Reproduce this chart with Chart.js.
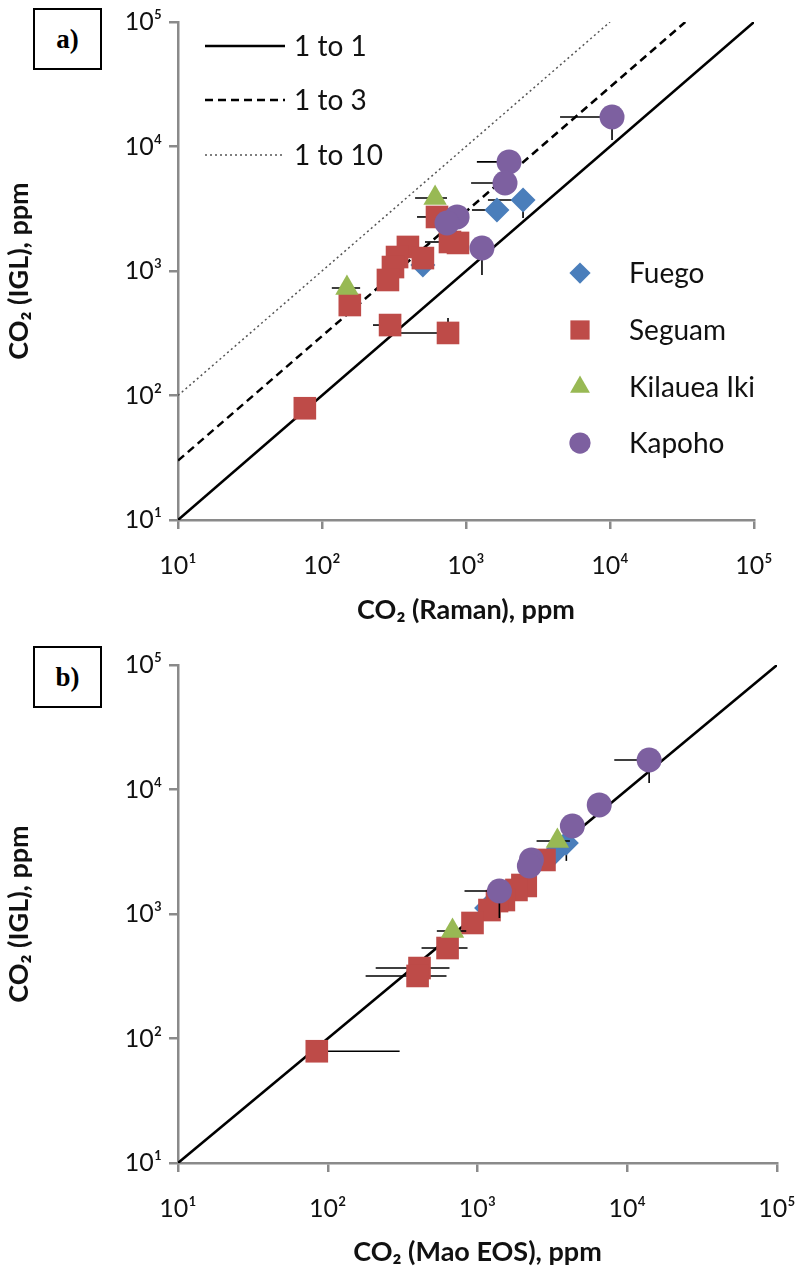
<!DOCTYPE html>
<html>
<head>
<meta charset="utf-8">
<script src="https://cdn.jsdelivr.net/npm/chart.js@4.4.0/dist/chart.umd.min.js"></script>
<style>
  body { margin: 0; background: #fff; width: 799px; height: 1277px; position: relative; overflow: hidden; }
  canvas { position: absolute; left: 0; }
  #chartA { top: 0; }
  #chartB { top: 640px; }
  .tag { position: absolute; left: 33px; width: 69px; height: 62px; box-sizing: border-box; border: 2px solid #000;
         font: bold 27px "Liberation Serif", serif; display: flex; align-items: center; justify-content: center; background: #fff; z-index: 2; }
</style>
</head>
<body>
<canvas id="chartA" width="799" height="640"></canvas>
<canvas id="chartB" width="799" height="637"></canvas>
<div class="tag" style="top:8px">a)</div>
<div class="tag" style="top:646px">b)</div>
<script>
// ===== DATA (ppm) =====
const axisTicks = [10, 100, 1000, 10000, 100000];
const axisTickLabels = ['10\u00B9', '10\u00B2', '10\u00B3', '10\u2074', '10\u2075'];
const ratioLabels = ['1 to 1', '1 to 3', '1 to 10'];
const ratios = [1, 3, 10];
const seriesNames = ['Fuego', 'Seguam', 'Kilauea Iki', 'Kapoho'];

const fuegoIGL       = [3715, 3090, 1117];
const fuegoRaman     = [2490, 1640, 502];
const fuegoMao       = [3920, 3260, 1150];
const fuegoRamanLo   = [1420, 1100, null];
const fuegoMaoLo     = [null, 2500, null];
const fuegoIGLLo     = [2670, null, null];

const seguamIGL      = [2717, 1710, 1680, 1560, 1295, 1270, 1076, 847, 533, 368, 318, 79];
const seguamRaman    = [629, 774, 880, 395, 332, 502, 311, 287, 156, 297, 750, 76];
const seguamMao      = [2800, 1995, 2100, 1820, 1500, 1350, 1202, 926, 631, 410, 398, 84.5];
const seguamRamanLo  = [457, 519, null, null, null, null, null, null, null, 226, 250, null];
const seguamMaoLo    = [null, null, null, null, null, null, null, null, 423, 209, 179, null];
const seguamMaoHi    = [null, null, null, null, null, null, null, null, 858, 650, 621, 302];
const seguamIGLHi    = [null, null, null, null, null, null, null, null, null, null, 419, null];

const kilaueaIGL     = [3855, 730];
const kilaueaRaman   = [610, 149];
const kilaueaMao     = [3415, 681];
const kilaueaRamanLo = [443, 117];
const kilaueaRamanHi = [738, 184];
const kilaueaMaoLo   = [2480, 535];
const kilaueaMaoHi   = [4140, 841];

const kapohoIGL      = [17260, 7520, 5090, 2717, 2430, 1530];
const kapohoRaman    = [10330, 1990, 1866, 867, 738, 1291];
const kapohoMao      = [14000, 6500, 4300, 2290, 2220, 1400];
const kapohoRamanLo  = [4500, 1190, 1085, null, null, null];
const kapohoMaoLo    = [8190, null, null, null, null, 819];
const kapohoIGLLo    = [11270, null, null, null, null, 929];

// ===== STYLES =====
const seriesColors = ['#4A7EBB', '#BE4B48', '#98B954', '#7D60A0'];
const seriesShapes = ['rectRot', 'rect', 'triangle', 'circle'];
const seriesRadius = [12.5, 16, 13.5, 12.5];
const lineDashes = [[], [8, 5], [2, 3]];
const lineWidths = [2.5, 2.5, 1.5];
const lineColors = ['#000', '#000', '#555'];
const FONT = 'Lato, "DejaVu Sans", sans-serif';

function points(xs, ys, xLo, xHi, yLo, yHi) {
  return xs.map((x, i) => ({
    x, y: ys[i],
    xLo: xLo ? xLo[i] : null, xHi: xHi ? xHi[i] : null,
    yLo: yLo ? yLo[i] : null, yHi: yHi ? yHi[i] : null,
  }));
}

function scatterSet(idx, data) {
  return {
    type: 'scatter', label: seriesNames[idx], data,
    pointStyle: seriesShapes[idx], pointRadius: seriesRadius[idx], pointHoverRadius: seriesRadius[idx],
    backgroundColor: seriesColors[idx], borderColor: seriesColors[idx], borderWidth: 0,
    order: 4 - idx, errorBars: true,
  };
}

function ratioLine(k) {
  return {
    type: 'line', label: ratioLabels[k], isRatio: true,
    data: [{ x: 10, y: 10 * ratios[k] }, { x: 100000 / ratios[k], y: 100000 }],
    borderColor: lineColors[k], borderWidth: lineWidths[k], borderDash: lineDashes[k],
    pointRadius: 0, fill: false, order: 10 + k,
  };
}

// ===== PLUGINS =====
const errorBarPlugin = {
  id: 'errorBars',
  beforeDatasetDraw(chart, args) {
    const ds = chart.data.datasets[args.index];
    if (!ds.errorBars) return;
    const { ctx, chartArea, scales: { x, y } } = chart;
    ctx.save();
    ctx.beginPath();
    ctx.rect(chartArea.left, chartArea.top, chartArea.right - chartArea.left, chartArea.bottom - chartArea.top);
    ctx.clip();
    ctx.strokeStyle = '#000';
    ctx.lineWidth = 1.6;
    ds.data.forEach(p => {
      const px = x.getPixelForValue(p.x), py = y.getPixelForValue(p.y);
      ctx.beginPath();
      if (p.xLo != null) { ctx.moveTo(x.getPixelForValue(p.xLo), py); ctx.lineTo(px, py); }
      if (p.xHi != null) { ctx.moveTo(px, py); ctx.lineTo(x.getPixelForValue(p.xHi), py); }
      if (p.yLo != null) { ctx.moveTo(px, y.getPixelForValue(p.yLo)); ctx.lineTo(px, py); }
      if (p.yHi != null) { ctx.moveTo(px, py); ctx.lineTo(px, y.getPixelForValue(p.yHi)); }
      ctx.stroke();
    });
    ctx.restore();
  }
};

const panelLegendPlugin = {
  id: 'panelLegend',
  afterDraw(chart, args, opts) {
    if (!opts.show) return;
    const ctx = chart.ctx;
    ctx.save();
    ctx.font = '28px ' + FONT;
    ctx.fillStyle = '#111';
    ctx.textBaseline = 'middle';
    const lineSets = chart.data.datasets.filter(d => d.isRatio);
    lineSets.forEach((d, i) => {
      const yy = [46, 100, 155][i];
      ctx.beginPath();
      ctx.strokeStyle = d.borderColor;
      ctx.lineWidth = d.borderWidth;
      ctx.setLineDash(d.borderDash);
      ctx.moveTo(205, yy); ctx.lineTo(285, yy);
      ctx.stroke();
      ctx.setLineDash([]);
      ctx.fillText(d.label, 294, yy + 1);
    });
    const markSets = chart.data.datasets.filter(d => d.errorBars);
    markSets.forEach((d, i) => {
      const yy = [273, 330, 387, 443][i];
      ctx.fillStyle = d.backgroundColor;
      ctx.strokeStyle = d.backgroundColor;
      Chart.helpers.drawPoint(ctx, { pointStyle: d.pointStyle, radius: d.pointRadius * 0.85, rotation: 0, borderWidth: 0 }, 580, yy);
      ctx.fillStyle = '#111';
      ctx.fillText(d.label, 629, yy + 1);
    });
    ctx.restore();
  }
};

// ===== CHART INSTANCES =====
const chartInstances = {};

function logAxis(titleText, size, titlePad, isX) {
  return {
    type: 'logarithmic', min: 10, max: 100000,
    afterBuildTicks: s => { s.ticks = axisTicks.map(v => ({ value: v })); },
    afterFit: s => {
      if (isX) { s.height = size; s.paddingRight = 0; s.paddingLeft = 0; }
      else { s.width = size; s.paddingTop = 0; s.paddingBottom = 0; }
    },
    ticks: {
      autoSkip: false, maxRotation: 0, padding: isX ? 22 : 7,
      color: '#111', font: { family: FONT, size: 25 },
      callback: v => axisTickLabels[axisTicks.indexOf(v)],
    },
    grid: { drawOnChartArea: false, drawTicks: true, tickLength: 9, color: '#8a8a8a', lineWidth: 2.5 },
    border: { display: true, color: '#8a8a8a', width: 2.5 },
    title: { display: true, text: titleText, color: '#111', padding: titlePad, font: { family: FONT, size: 27, weight: 'bold' } },
  };
}

function renderPanel(id, datasets, layoutPad, xHeight, xTitle, xTitlePad, showLegend) {
  const ctx = document.getElementById(id);
  chartInstances[id] = new Chart(ctx, {
    data: { datasets },
    options: {
      responsive: false, animation: false, events: [],
      layout: { padding: layoutPad },
      plugins: { legend: { display: false }, tooltip: { enabled: false }, panelLegend: { show: showLegend } },
      scales: {
        x: logAxis(xTitle, xHeight, xTitlePad, true),
        y: logAxis('CO\u2082 (IGL), ppm', 178, { top: 3, bottom: 0 }, false),
      }
    },
    plugins: [errorBarPlugin, panelLegendPlugin]
  });
}

function renderPanelA() {
  const datasets = [
    ratioLine(0), ratioLine(1), ratioLine(2),
    scatterSet(0, points(fuegoRaman, fuegoIGL, fuegoRamanLo, null, fuegoIGLLo, null)),
    scatterSet(1, points(seguamRaman, seguamIGL, seguamRamanLo, null, null, seguamIGLHi)),
    scatterSet(2, points(kilaueaRaman, kilaueaIGL, kilaueaRamanLo, kilaueaRamanHi, null, null)),
    scatterSet(3, points(kapohoRaman, kapohoIGL, kapohoRamanLo, null, kapohoIGLLo, null)),
  ];
  renderPanel('chartA', datasets, { top: 22, right: 45, left: 0, bottom: 0 }, 120,
    'CO\u2082 (Raman), ppm', { top: 0, bottom: 14 }, true);
}

function renderPanelB() {
  const datasets = [
    ratioLine(0),
    scatterSet(0, points(fuegoMao, fuegoIGL, fuegoMaoLo, null, fuegoIGLLo, null)),
    scatterSet(1, points(seguamMao, seguamIGL, seguamMaoLo, seguamMaoHi, null, seguamIGLHi)),
    scatterSet(2, points(kilaueaMao, kilaueaIGL, kilaueaMaoLo, kilaueaMaoHi, null, null)),
    scatterSet(3, points(kapohoMao, kapohoIGL, kapohoMaoLo, null, kapohoIGLLo, null)),
  ];
  renderPanel('chartB', datasets, { top: 25, right: 22, left: 0, bottom: 0 }, 114,
    'CO\u2082 (Mao EOS), ppm', { top: 0, bottom: 9 }, false);
}

renderPanelA();
renderPanelB();
</script>
</body>
</html>
